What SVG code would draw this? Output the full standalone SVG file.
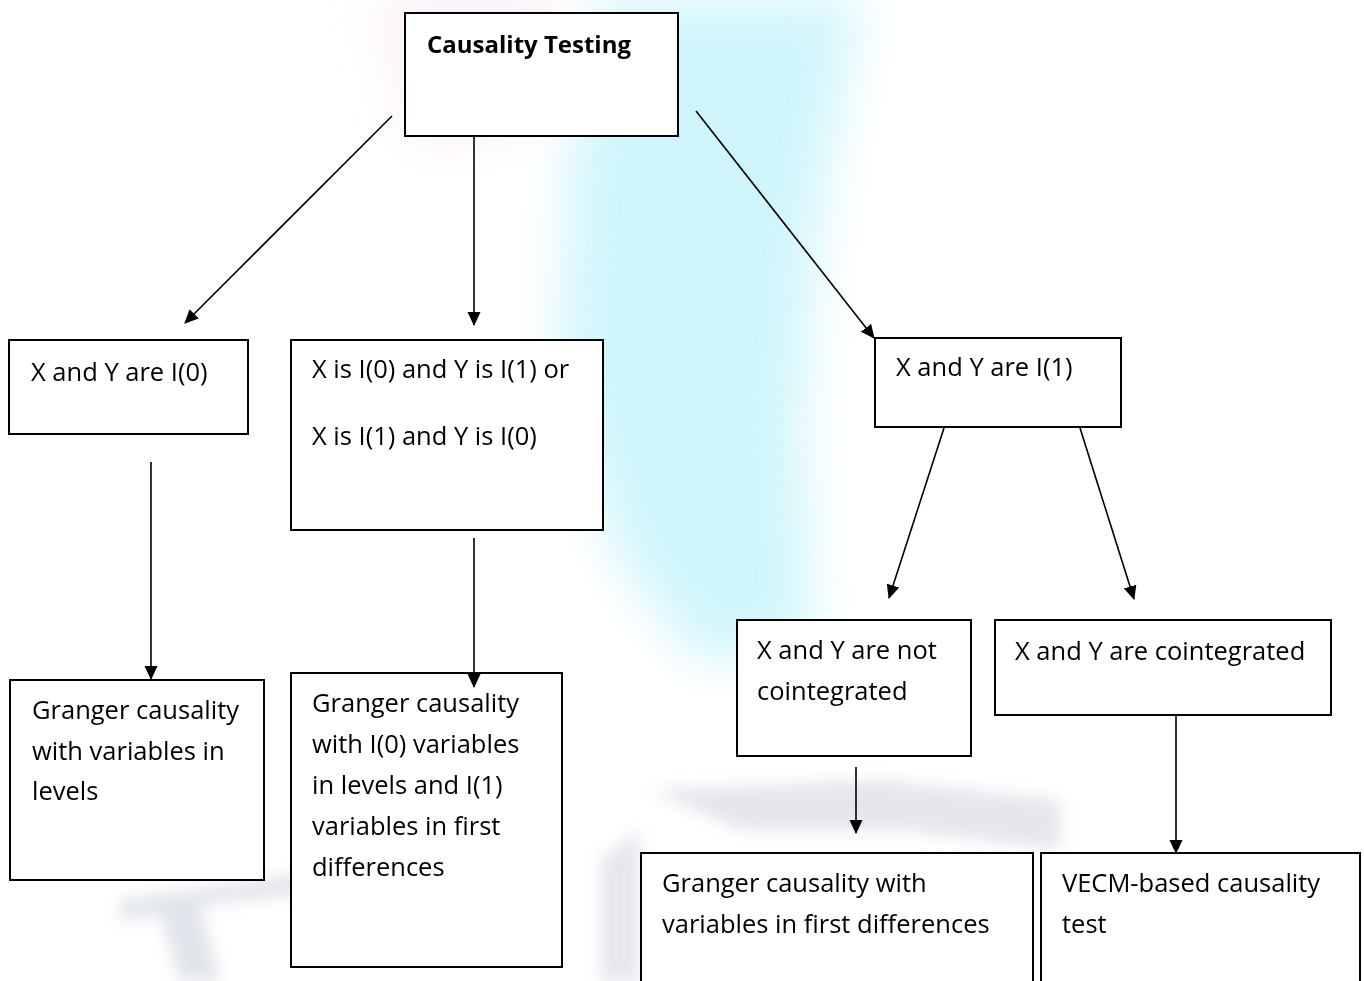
<svg xmlns="http://www.w3.org/2000/svg" width="1364" height="981" viewBox="0 0 1364 981">
<style>
.box{fill:#ffffff;stroke:#000;stroke-width:2}
.t{font-family:"Open Sans","Liberation Sans",sans-serif;font-size:25.5px;fill:#000}
.b{font-weight:bold;font-size:24px}
.c{stroke:#000;stroke-width:1.6;fill:none;marker-end:url(#ah)}
</style>
<defs>
<marker id="ah" markerUnits="userSpaceOnUse" markerWidth="14" markerHeight="14" refX="13" refY="6.5" orient="auto">
<path d="M0,0 L14,6.5 L0,13 Z" fill="#000"/>
</marker>
<filter id="blur" x="-50%" y="-50%" width="200%" height="200%"><feGaussianBlur stdDeviation="25"/></filter>
<filter id="blur2" x="-50%" y="-50%" width="200%" height="200%"><feGaussianBlur stdDeviation="8"/></filter>
</defs>
<rect width="1364" height="981" fill="#ffffff"/>
<g id="watermark">
<path d="M600,0 L860,0 L820,200 L800,420 L810,640 L700,660 L620,560 L560,380 L570,180 Z" fill="#a8eef8" opacity="0.55" filter="url(#blur)"/>
<path d="M380,0 L560,0 L540,120 L420,140 Z" fill="#f6d8ee" opacity="0.5" filter="url(#blur)"/>
<g opacity="0.3">
<path d="M120,900 L330,870 L330,890 L200,905 L220,981 L180,981 L160,915 L120,920 Z" fill="#9aa4b8" filter="url(#blur2)"/>
<path d="M650,790 L880,780 L1060,800 L1060,850 L900,830 L740,830 Z" fill="#b0a8c0" filter="url(#blur2)"/>
<path d="M600,860 L640,830 L640,981 L600,981 Z" fill="#a8b0c4" filter="url(#blur2)"/>
</g>
</g>
<g id="n-causality">
<rect class="box" x="405" y="13" width="273" height="123"/>
<text class="t b" x="427" y="53">Causality Testing</text>
</g>
<g id="n-i0">
<rect class="box" x="9" y="340" width="239" height="94"/>
<text class="t" x="31" y="381">X and Y are I(0)</text>
</g>
<g id="n-mixed">
<rect class="box" x="291" y="340" width="312" height="190"/>
<text class="t" x="312" y="378">X is I(0) and Y is I(1) or</text>
<text class="t" x="312" y="445">X is I(1) and Y is I(0)</text>
</g>
<g id="n-i1">
<rect class="box" x="875" y="338" width="246" height="89"/>
<text class="t" x="896" y="376">X and Y are I(1)</text>
</g>
<g id="n-notcoint">
<rect class="box" x="737" y="620" width="234" height="136"/>
<text class="t" x="757" y="659">X and Y are not</text>
<text class="t" x="757" y="700">cointegrated</text>
</g>
<g id="n-coint">
<rect class="box" x="995" y="620" width="336" height="95"/>
<text class="t" x="1015" y="660">X and Y are cointegrated</text>
</g>
<g id="n-levels">
<rect class="box" x="10" y="680" width="254" height="200"/>
<text class="t" x="32" y="719">Granger causality</text>
<text class="t" x="32" y="760">with variables in</text>
<text class="t" x="32" y="800">levels</text>
</g>
<g id="n-mixedtest">
<rect class="box" x="291" y="673" width="271" height="294"/>
<text class="t" x="312" y="712">Granger causality</text>
<text class="t" x="312" y="753">with I(0) variables</text>
<text class="t" x="312" y="794">in levels and I(1)</text>
<text class="t" x="312" y="835">variables in first</text>
<text class="t" x="312" y="876">differences</text>
</g>
<g id="n-firstdiff">
<rect class="box" x="641" y="853" width="392" height="140"/>
<text class="t" x="662" y="892">Granger causality with</text>
<text class="t" x="662" y="933">variables in first differences</text>
</g>
<g id="n-vecm">
<rect class="box" x="1041" y="853" width="319" height="140"/>
<text class="t" x="1062" y="892">VECM-based causality</text>
<text class="t" x="1062" y="933">test</text>
</g>
<g id="connectors">
<line class="c" x1="392" y1="116" x2="185" y2="323"/>
<line class="c" x1="474" y1="137" x2="474" y2="325"/>
<line class="c" x1="696" y1="111" x2="874" y2="338"/>
<line class="c" x1="151" y1="462" x2="151" y2="679"/>
<line class="c" x1="474" y1="538" x2="474" y2="687"/>
<line class="c" x1="944" y1="428" x2="889" y2="598"/>
<line class="c" x1="1080" y1="428" x2="1134" y2="599"/>
<line class="c" x1="856" y1="767" x2="856" y2="833"/>
<line class="c" x1="1176" y1="716" x2="1176" y2="853"/>
</g>
</svg>
